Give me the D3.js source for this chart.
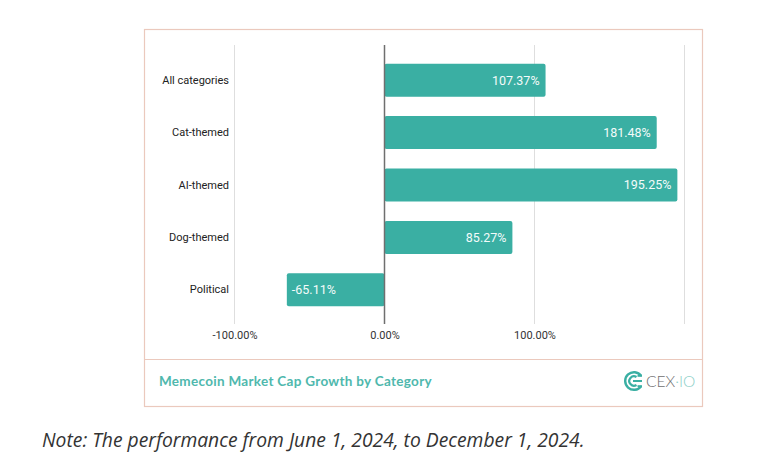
<!DOCTYPE html>
<html>
<head>
<meta charset="utf-8">
<script src="https://cdn.jsdelivr.net/npm/d3@7"></script>
<style>
  html, body { margin: 0; padding: 0; background: #ffffff; }
  svg { display: block; }
</style>
</head>
<body>
<svg id="chart" width="780" height="470"></svg>
<script>
const categories = ["All categories", "Cat-themed", "AI-themed", "Dog-themed", "Political"];
const growth = [107.37, 181.48, 195.25, 85.27, -65.11];
const tickValues = [-100, 0, 100, 200];
const tickLabels = ["-100.00%", "0.00%", "100.00%", ""];
const chartTitle = "Memecoin Market Cap Growth by Category";
const noteText = "Note: The performance from June 1, 2024, to December 1, 2024.";

const svg = d3.select("#chart");
const teal = "#3aafa3";

// frame
svg.append("rect").attr("x", 144.5).attr("y", 29.5).attr("width", 558).attr("height", 377)
  .attr("fill", "#fff").attr("stroke", "#ebc9bd").attr("stroke-width", 1.2);
svg.append("line").attr("x1", 144.5).attr("x2", 702.5).attr("y1", 359.5).attr("y2", 359.5)
  .attr("stroke", "#ebc9bd").attr("stroke-width", 1.2);

const x = d3.scaleLinear().domain([-100, 200]).range([234.5, 684.5]);
const y = d3.scaleBand().domain(categories).range([54, 316]).paddingInner(0.37).paddingOuter(0.185);

const gridTop = 45, gridBottom = 324;

// gridlines
svg.append("g").selectAll("line").data(tickValues.filter(v => v !== 0)).join("line")
  .attr("x1", d => x(d)).attr("x2", d => x(d))
  .attr("y1", gridTop).attr("y2", gridBottom)
  .attr("stroke", "#dedede").attr("stroke-width", 1);

// bars
const data = categories.map((c, i) => ({ c, v: growth[i] }));
svg.append("g").selectAll("rect").data(data).join("rect")
  .attr("x", d => Math.min(x(0), x(d.v)))
  .attr("y", d => y(d.c))
  .attr("width", d => Math.abs(x(d.v) - x(0)))
  .attr("height", y.bandwidth())
  .attr("rx", 2)
  .attr("fill", teal);

// zero line
svg.append("line").attr("x1", x(0)).attr("x2", x(0)).attr("y1", gridTop).attr("y2", gridBottom)
  .attr("stroke", "#6f6f6f").attr("stroke-width", 1.5);

// value labels
svg.append("g").selectAll("text").data(data).join("text")
  .attr("x", d => d.v >= 0 ? x(d.v) - 6 : x(d.v) + 5)
  .attr("y", d => y(d.c) + y.bandwidth() / 2)
  .attr("dy", "0.35em")
  .attr("text-anchor", d => d.v >= 0 ? "end" : "start")
  .attr("font-family", "Roboto, sans-serif")
  .attr("font-size", 12.5)
  .attr("fill", "#f4fbfa")
  .text(d => d.v.toFixed(2) + "%");

// category axis labels
const yAxis = d3.axisLeft(y).tickSize(0).tickPadding(0);
const gy = svg.append("g").attr("transform", "translate(229,0)").call(yAxis);
gy.select(".domain").remove();
gy.selectAll("text").attr("font-family", "Roboto, sans-serif").attr("font-size", 11).attr("fill", "#222");

// x axis labels
const xAxis = d3.axisBottom(x).tickValues(tickValues).tickSize(0).tickPadding(0)
  .tickFormat((d, i) => tickLabels[i]);
const gx = svg.append("g").attr("transform", "translate(0,331)").call(xAxis);
gx.select(".domain").remove();
gx.selectAll("text").attr("font-family", "Roboto, sans-serif").attr("font-size", 11).attr("fill", "#333");

// footer title
svg.append("text").attr("x", 159).attr("y", 381).attr("dy", "0.35em")
  .attr("font-family", "Lato, sans-serif").attr("font-weight", 700).attr("font-size", 13.5)
  .attr("letter-spacing", 0.3)
  .attr("fill", "#4fb8ad").text(chartTitle);

// logo icon: C opening to the right with inner stripes
const logo = svg.append("g").attr("transform", "translate(634,381)");
const gap = Math.PI * 0.2;
logo.append("path")
  .attr("d", d3.arc()({innerRadius: 7.6, outerRadius: 10, startAngle: Math.PI / 2 + gap, endAngle: Math.PI * 2.5 - gap}))
  .attr("fill", teal);
logo.append("path")
  .attr("d", d3.arc()({innerRadius: 3.6, outerRadius: 5.8, startAngle: Math.PI / 2 + gap * 1.6, endAngle: Math.PI * 2.5 - gap * 1.6}))
  .attr("fill", teal);
logo.append("rect").attr("x", -1).attr("y", -1).attr("width", 9).attr("height", 2).attr("fill", teal);
logo.append("rect").attr("x", 3.5).attr("y", -6.2).attr("width", 4.5).attr("height", 2).attr("fill", teal);
logo.append("rect").attr("x", 3.5).attr("y", 4.2).attr("width", 4.5).attr("height", 2).attr("fill", teal);

const lt = svg.append("text").attr("x", 646).attr("y", 381).attr("dy", "0.36em")
  .attr("font-family", "Lato, sans-serif").attr("font-weight", 300).attr("font-size", 15.5);
lt.append("tspan").attr("fill", "#6e6e6e").text("CEX");
lt.append("tspan").attr("fill", "#8ccfc8").text("·IO");

// note
svg.append("text").attr("x", 42).attr("y", 440).attr("dy", "0.35em")
  .attr("font-family", "'Open Sans', sans-serif").attr("font-style", "italic").attr("font-size", 19.3)
  .attr("fill", "#333").text(noteText);
</script>
</body>
</html>
